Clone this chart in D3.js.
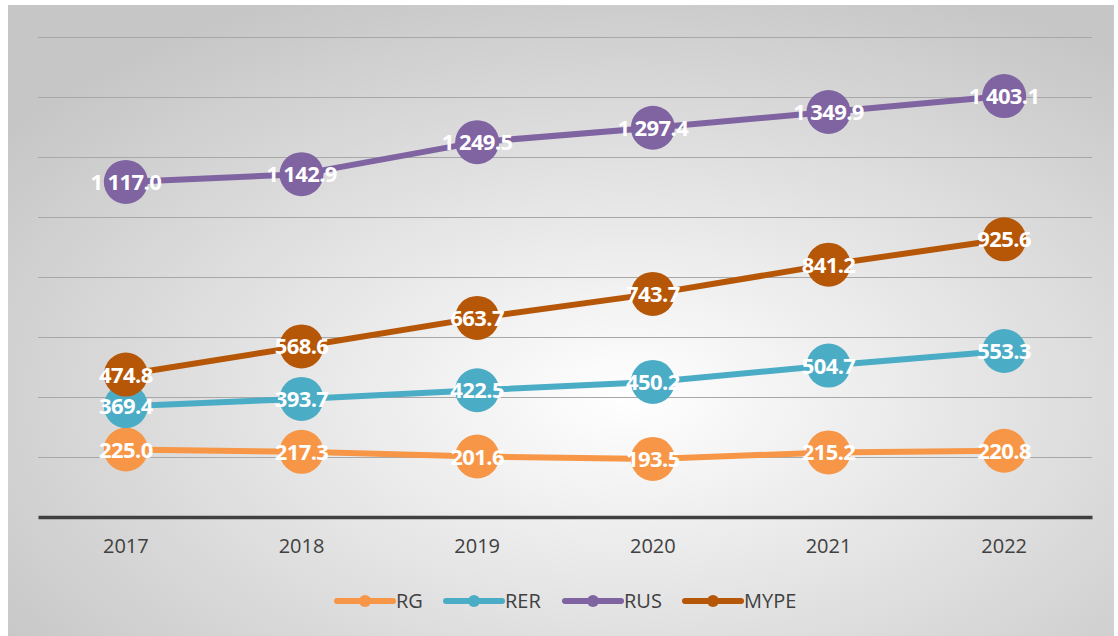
<!DOCTYPE html>
<html>
<head>
<meta charset="utf-8">
<script src="https://cdn.jsdelivr.net/npm/d3@7"></script>
<style>
  html, body { margin: 0; padding: 0; background: #fff; }
  svg { display: block; font-family: "Open Sans", "Liberation Sans", sans-serif; }
</style>
</head>
<body>
<div id="chart"></div>
<script>
const W = 1118, H = 636;

const years = ["2017", "2018", "2019", "2020", "2021", "2022"];
const rg   = [225.0, 217.3, 201.6, 193.5, 215.2, 220.8];
const rer  = [369.4, 393.7, 422.5, 450.2, 504.7, 553.3];
const rus  = [1117.0, 1142.9, 1249.5, 1297.4, 1349.9, 1403.1];
const mype = [474.8, 568.6, 663.7, 743.7, 841.2, 925.6];
const seriesNames = ["RG", "RER", "RUS", "MYPE"];
const colors = ["#F79646", "#4BACC6", "#8064A2", "#B65708"];
const gridTicks = [200, 400, 600, 800, 1000, 1200, 1400, 1600];

const series = [rg, rer, rus, mype].map((vals, i) => ({name: seriesNames[i], color: colors[i], values: vals}));

const plot = {left: 38, right: 1092, top: 37, bottom: 517};

const svg = d3.select("#chart").append("svg")
    .attr("width", W)
    .attr("height", H);

const defs = svg.append("defs");
const grad = defs.append("radialGradient")
    .attr("id", "bg")
    .attr("cx", "56%").attr("cy", "62%").attr("r", "70%");
grad.append("stop").attr("offset", "0%").attr("stop-color", "#ffffff");
grad.append("stop").attr("offset", "100%").attr("stop-color", "#c6c6c6");

svg.append("rect")
    .attr("x", 8).attr("y", 5)
    .attr("width", W - 12).attr("height", H - 5)
    .attr("fill", "url(#bg)");

const x = d3.scaleBand().domain(years).range([plot.left, plot.right]);
const y = d3.scaleLinear().domain([0, 1600]).range([plot.bottom, plot.top]);

// gridlines
svg.append("g")
    .selectAll("line")
    .data(gridTicks)
    .enter().append("line")
    .attr("x1", plot.left).attr("x2", plot.right)
    .attr("y1", d => Math.round(y(d)) + 0.5)
    .attr("y2", d => Math.round(y(d)) + 0.5)
    .attr("stroke", "#a8a8a8")
    .attr("stroke-width", 1.2);

// x axis
const xAxis = svg.append("g")
    .attr("transform", `translate(0,${plot.bottom})`)
    .call(d3.axisBottom(x).tickSize(0).tickPadding(22));
xAxis.select(".domain").attr("stroke", "#404040").attr("stroke-width", 3.5);
xAxis.selectAll("text")
    .attr("fill", "#404040")
    .style("font-size", "20px")
    .style("font-family", "\"Open Sans\", sans-serif");

const cx = d => x(d) + x.bandwidth() / 2;
const line = d3.line().x((d, i) => cx(years[i])).y(d => y(d));

const fmt = v => {
    const s = v.toFixed(1);
    const [ip, dp] = s.split(".");
    return ip.replace(/\B(?=(\d{3})+(?!\d))/g, " ") + "." + dp;
};

const g = svg.append("g");
series.forEach(s => {
    g.append("path")
        .datum(s.values)
        .attr("d", line)
        .attr("fill", "none")
        .attr("stroke", s.color)
        .attr("stroke-width", 6)
        .attr("stroke-linejoin", "round");
});
series.forEach(s => {
    g.selectAll(null)
        .data(s.values)
        .enter().append("circle")
        .attr("cx", (d, i) => cx(years[i]))
        .attr("cy", d => y(d))
        .attr("r", 22)
        .attr("fill", s.color);
});
series.forEach(s => {
    g.selectAll(null)
        .data(s.values)
        .enter().append("text")
        .attr("x", (d, i) => cx(years[i]))
        .attr("y", d => y(d) + 8)
        .attr("text-anchor", "middle")
        .attr("fill", "#fff")
        .style("font-size", "22px")
        .style("font-weight", "bold")
        .style("letter-spacing", "-0.6px")
        .text(d => fmt(d));
});

// legend
const legendItems = [{x: 337}, {x: 446}, {x: 565}, {x: 685}];
const leg = svg.append("g").attr("transform", "translate(0,601)");
series.forEach((s, i) => {
    const lx = legendItems[i].x;
    const item = leg.append("g").attr("transform", `translate(${lx},0)`);
    item.append("line")
        .attr("x1", 0).attr("x2", 56)
        .attr("stroke", s.color)
        .attr("stroke-width", 6)
        .attr("stroke-linecap", "round");
    item.append("circle")
        .attr("cx", 28).attr("r", 6)
        .attr("fill", s.color);
    item.append("text")
        .attr("x", 59).attr("y", 7)
        .attr("fill", "#404040")
        .style("font-size", "20px")
        .text(s.name);
});
</script>
</body>
</html>
